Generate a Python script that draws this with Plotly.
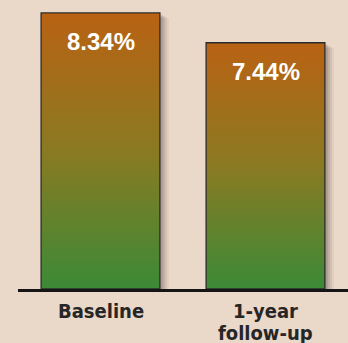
import plotly.graph_objects as go

categories = ["Baseline", "1-year<br>follow-up"]
values = [8.34, 7.44]
value_labels = ["8.34%", "7.44%"]

W, H = 348, 343
ML, MR, MT, MB = 18, 0, 0, 54
XR = [-0.5, 1.5]
YR = [0, 8.731]
px_x = (W - ML - MR) / (XR[1] - XR[0])
px_y = (H - MT - MB) / (YR[1] - YR[0])
BW = 0.72

BG = "#EAD8C9"
fig = go.Figure()

# soft drop shadows
for i, v in enumerate(values):
    for k, (off, a) in enumerate([(9, 0.06), (7, 0.08), (5, 0.10), (3, 0.12)]):
        dx = off / px_x
        dy = off * 0.6 / px_y
        x0, x1 = i - BW / 2 + dx, i + BW / 2 + dx
        y0, y1 = -dy, v - dy
        fig.add_trace(go.Scatter(
            x=[x0, x1, x1, x0, x0], y=[y0, y0, y1, y1, y0],
            mode="lines", fill="toself", fillcolor=f"rgba(50,35,25,{a})",
            line=dict(width=0), hoverinfo="skip", showlegend=False))

# gradient bars
for i, v in enumerate(values):
    x0, x1 = i - BW / 2, i + BW / 2
    fig.add_trace(go.Scatter(
        x=[x0, x1, x1, x0, x0], y=[0, 0, v, v, 0],
        mode="lines", fill="toself",
        fillgradient=dict(type="vertical", start=0, stop=v,
                          colorscale=[[0, "#3C8A37"], [0.5, "#8A7A22"], [1, "#B96213"]]),
        line=dict(color="#2b2b2b", width=1.3),
        hoverinfo="skip", showlegend=False))

for i, (v, t) in enumerate(zip(values, value_labels)):
    fig.add_annotation(x=i, y=v, text=f"<b>{t}</b>", showarrow=False,
                       yanchor="top", yshift=-13,
                       font=dict(family="Liberation Sans, Arial", size=24, color="white"))

# category labels (tighter line spacing than plotly's default tick labels)
for i, c in enumerate(categories):
    for j, line in enumerate(c.split("<br>")):
        fig.add_annotation(x=i, y=0, text=line, showarrow=False,
                           yanchor="middle", yshift=-21.8 - 22.6 * j,
                           font=dict(family="DejaVu Sans Condensed, Liberation Sans Narrow, Arial Narrow",
                                     size=20, color="#262626", weight="bold"))

fig.update_layout(
    width=W, height=H, margin=dict(l=ML, r=MR, t=MT, b=MB),
    paper_bgcolor=BG, plot_bgcolor=BG,
    xaxis=dict(range=XR, showticklabels=False,
               showgrid=False, zeroline=False, showline=True,
               linecolor="#151515", linewidth=2.5, ticks="", automargin=False,
               fixedrange=True),
    yaxis=dict(range=YR, visible=False, fixedrange=True, automargin=False),
)

fig.write_html("out.html", config={"displayModeBar": False},
               post_script="document.body.style.margin='0';document.body.style.background='" + BG + "';")
